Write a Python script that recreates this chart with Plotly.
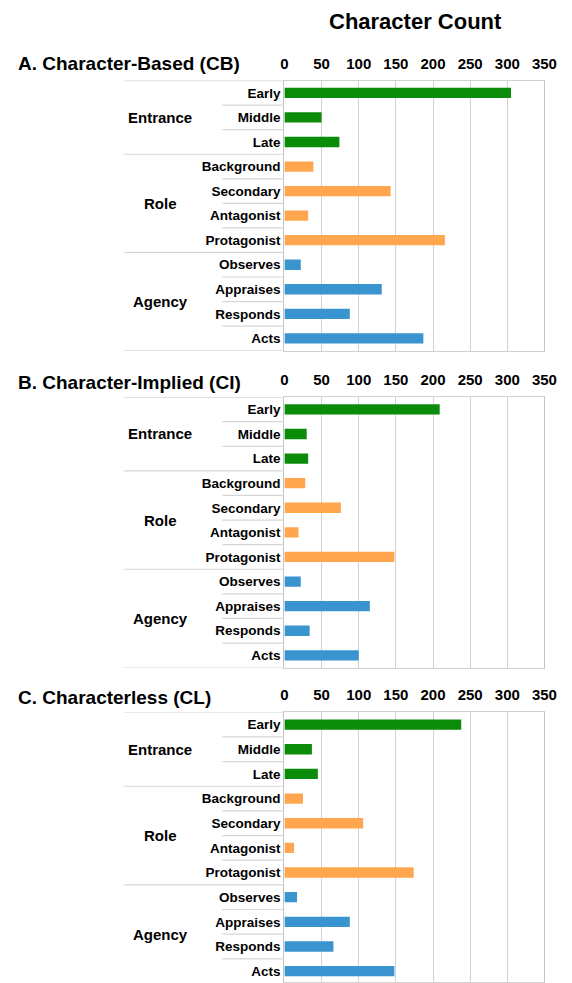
import plotly.graph_objects as go

categories = ["Early", "Middle", "Late", "Background", "Secondary", "Antagonist",
              "Protagonist", "Observes", "Appraises", "Responds", "Acts"]
group_names = ["Entrance", "Role", "Agency"]
group_sizes = [3, 4, 4]
group_colors = ["#0a8c0a", "#ffa64f", "#3a94d0"]

cb_values = [305, 50, 74, 39, 143, 32, 216, 22, 131, 88, 187]
ci_values = [209, 30, 32, 28, 76, 19, 148, 22, 115, 34, 100]
cl_values = [238, 37, 45, 25, 106, 13, 174, 17, 88, 66, 148]

panel_titles = ["A. Character-Based (CB)", "B. Character-Implied (CI)", "C. Characterless (CL)"]
x_ticks = [0, 50, 100, 150, 200, 250, 300, 350]
main_title = "Character Count"

W, H = 572, 983
FONT = "Liberation Sans, Arial, Helvetica, sans-serif"

def px_x(p):
    return p / W

def px_y(p):
    return 1 - p / H

bar_colors = []
for c, n in zip(group_colors, group_sizes):
    bar_colors += [c] * n

# panel geometry (pixels): (top, bottom, yrange_top_index)
panels = [
    (80.7, 351.0, 10.5),
    (397.5, 668.3, 10.5),
    (713.0, 983.0, 10.44),
]
title_y = [64, 383, 698]

x_dom = [px_x(289), px_x(557)]
fig = go.Figure()
layout = dict(
    width=W, height=H, autosize=False,
    margin=dict(l=0, r=0, t=0, b=0),
    paper_bgcolor="white", plot_bgcolor="white",
    showlegend=False,
    font=dict(family=FONT, color="black"),
)
annotations = []
shapes = []

for i, (vals, (top, bot, ytop), ttl, ty) in enumerate(zip(
        [cb_values, ci_values, cl_values], panels, panel_titles, title_y)):
    sfx = "" if i == 0 else str(i + 1)
    fig.add_trace(go.Bar(
        x=vals, y=categories, orientation="h",
        marker=dict(color=bar_colors, line=dict(width=0)),
        width=0.42,
        xaxis="x" + sfx, yaxis="y" + sfx,
        hoverinfo="x+y",
    ))
    layout["xaxis" + sfx] = dict(
        domain=x_dom, range=[0, 350], side="top", anchor="y" + sfx,
        tickvals=x_ticks, ticktext=[str(t) for t in x_ticks],
        tickfont=dict(size=15, family=FONT, weight="bold", color="black"),
        showgrid=True, gridcolor="#d2d2d2", gridwidth=1.2,
        zeroline=False, showline=True, linecolor="#d2d2d2", linewidth=1.2, mirror=True,
        ticks="outside", ticklen=5, tickcolor="rgba(0,0,0,0)",
        fixedrange=True,
    )
    layout["yaxis" + sfx] = dict(
        domain=[px_y(bot), px_y(top)], type="category",
        categoryorder="array", categoryarray=categories,
        range=[ytop, -0.5], anchor="x" + sfx,
        tickfont=dict(size=13.5, family=FONT, weight="bold", color="black"),
        showgrid=False, zeroline=False,
        showline=True, linecolor="#c4c4c4", linewidth=1.2, mirror=True,
        ticks="", fixedrange=True,
    )
    yref = "y" + sfx
    # panel title
    annotations.append(dict(
        text=ttl, xref="paper", yref="paper", x=px_x(12), y=px_y(ty),
        xanchor="left", yanchor="middle", align="left", showarrow=False,
        font=dict(size=19, family=FONT, weight="bold", color="black"),
    ))
    # group labels
    start = 0
    for name, n in zip(group_names, group_sizes):
        center = start + (n - 1) / 2
        annotations.append(dict(
            text=name, xref="paper", yref=yref, x=px_x(161), y=center,
            xanchor="center", yanchor="middle", showarrow=False,
            font=dict(size=15, family=FONT, weight="bold", color="black"),
        ))
        # short separators within group
        for k in range(n - 1):
            yy = start + k + 0.5
            shapes.append(dict(type="line", xref="paper", yref=yref,
                               x0=px_x(225), x1=px_x(289), y0=yy, y1=yy,
                               line=dict(color="#d6d6d6", width=1.2)))
        # long separator above group
        yy = start - 0.5
        shapes.append(dict(type="line", xref="paper", yref=yref,
                           x0=px_x(124), x1=px_x(289), y0=yy, y1=yy,
                           line=dict(color="#d6d6d6", width=1.2)))
        start += n
    yy = start - 0.5
    shapes.append(dict(type="line", xref="paper", yref=yref,
                       x0=px_x(124), x1=px_x(289), y0=yy, y1=yy,
                       line=dict(color="#d6d6d6", width=1.2)))

annotations.append(dict(
    text=main_title, xref="paper", yref="paper", x=px_x(424), y=px_y(22),
    xanchor="center", yanchor="middle", showarrow=False,
    font=dict(size=22, family=FONT, weight="bold", color="black"),
))

layout["annotations"] = annotations
layout["shapes"] = shapes
fig.update_layout(**layout)
fig.write_html(
    "out.html",
    config={"responsive": False, "displayModeBar": False},
    post_script="document.body.style.margin='0';document.body.style.padding='0';document.body.style.overflow='hidden';",
)
